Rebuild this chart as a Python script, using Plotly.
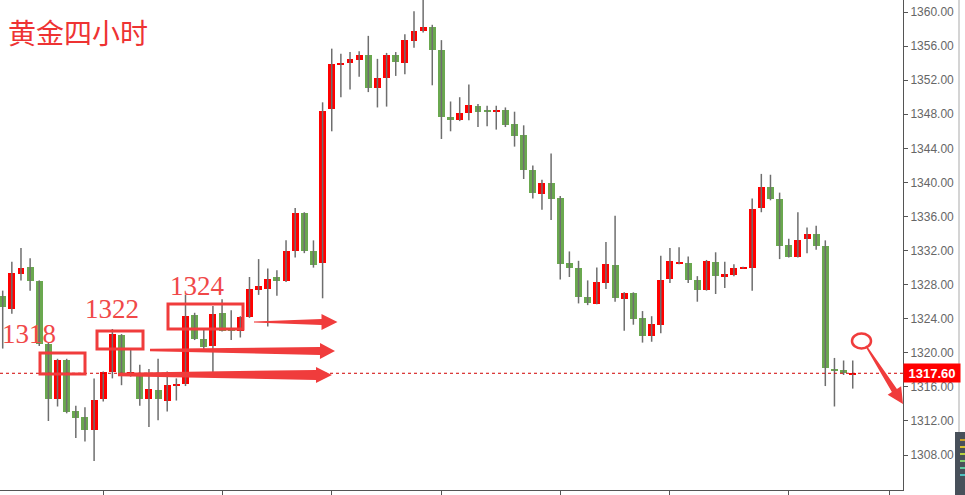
import plotly.graph_objects as go

# ---------------- data (4H gold candles) ----------------
opens = [1326.7, 1325.2, 1329.3, 1330.1, 1328.4, 1321.0, 1314.6, 1319.1, 1313.2, 1312.5,
         1310.9, 1314.6, 1317.7, 1322.1, 1317.3, 1317.6, 1314.6, 1315.6, 1314.4, 1316.1,
         1316.3, 1324.4, 1321.6, 1320.8, 1324.7, 1322.7, 1322.6, 1324.2, 1327.4, 1327.5,
         1328.9, 1328.4, 1331.9, 1336.4, 1331.9, 1330.5, 1348.6, 1353.8, 1354.0, 1354.4,
         1354.9, 1351.1, 1352.3, 1355.0, 1354.0, 1356.6, 1357.8, 1358.2, 1355.6, 1347.7,
         1347.3, 1348.1, 1349.0, 1348.4, 1348.3, 1348.5, 1346.8, 1345.6, 1341.4, 1338.7,
         1339.9, 1338.2, 1330.5, 1330.0, 1326.5, 1325.7, 1328.2, 1330.3, 1326.3, 1327.0,
         1324.1, 1322.0, 1323.3, 1328.7, 1330.5, 1330.6, 1328.6, 1327.4, 1330.7, 1329.0,
         1329.1, 1329.95, 1329.9, 1337.0, 1339.5, 1338.1, 1332.6, 1331.2, 1333.4, 1333.9,
         1332.5, 1318.1, 1318.0, 1317.5]
highs = [1327.3, 1330.7, 1332.3, 1331.1, 1328.5, 1321.2, 1319.3, 1319.3, 1313.8, 1313.6,
         1317.0, 1317.8, 1322.8, 1322.2, 1320.5, 1318.6, 1318.1, 1319.3, 1317.8, 1317.0,
         1326.8, 1324.7, 1322.7, 1325.5, 1326.3, 1325.0, 1324.3, 1328.9, 1331.0, 1329.9,
         1329.7, 1333.2, 1337.0, 1336.5, 1333.2, 1349.4, 1355.7, 1355.1, 1355.3, 1355.4,
         1357.2, 1354.5, 1355.2, 1355.3, 1357.4, 1360.1, 1361.4, 1358.5, 1356.7, 1349.5,
         1350.0, 1351.5, 1349.2, 1349.0, 1349.0, 1348.8, 1348.3, 1346.7, 1342.0, 1340.3,
         1343.4, 1338.4, 1331.9, 1330.8, 1328.5, 1330.0, 1333.0, 1336.1, 1327.1, 1327.1,
         1324.9, 1324.3, 1331.4, 1332.3, 1332.4, 1331.3, 1329.0, 1330.9, 1331.8, 1330.7,
         1330.4, 1330.1, 1338.1, 1341.0, 1340.9, 1338.8, 1333.4, 1336.5, 1334.7, 1334.9,
         1333.2, 1319.4, 1319.1, 1319.1]
lows = [1320.5, 1324.6, 1328.5, 1327.3, 1320.8, 1312.0, 1313.7, 1312.9, 1310.0, 1309.6,
        1307.3, 1314.3, 1317.0, 1316.2, 1317.2, 1313.8, 1311.3, 1312.1, 1313.1, 1314.4,
        1316.1, 1321.5, 1320.1, 1317.7, 1322.5, 1321.5, 1321.8, 1324.1, 1326.8, 1323.1,
        1326.7, 1328.3, 1331.2, 1331.7, 1330.0, 1326.4, 1346.0, 1350.0, 1350.9, 1352.4,
        1350.6, 1348.8, 1348.9, 1352.5, 1352.7, 1355.8, 1357.6, 1351.4, 1345.1, 1346.0,
        1347.2, 1347.3, 1346.5, 1346.6, 1346.2, 1346.5, 1344.2, 1340.4, 1338.1, 1336.8,
        1335.6, 1328.6, 1328.9, 1325.8, 1325.6, 1325.7, 1327.5, 1326.0, 1322.6, 1323.3,
        1321.2, 1321.3, 1322.3, 1328.2, 1330.4, 1328.2, 1326.0, 1327.3, 1326.9, 1327.6,
        1329.0, 1329.9, 1327.3, 1336.5, 1337.9, 1331.0, 1331.2, 1331.2, 1331.7, 1332.1,
        1316.1, 1313.7, 1317.4, 1315.8]
closes = [1325.4, 1329.4, 1330.0, 1328.4, 1321.0, 1314.6, 1319.1, 1313.1, 1312.4, 1310.9,
          1314.5, 1317.7, 1322.2, 1317.3, 1317.7, 1314.6, 1315.7, 1314.6, 1316.2, 1316.4,
          1324.3, 1321.6, 1320.7, 1324.5, 1322.6, 1322.6, 1324.2, 1327.5, 1327.8, 1328.7,
          1328.4, 1331.9, 1336.4, 1331.9, 1330.3, 1348.4, 1353.9, 1354.0, 1354.5, 1354.9,
          1351.1, 1352.3, 1355.0, 1354.1, 1356.7, 1357.8, 1358.2, 1355.6, 1347.7, 1347.3,
          1348.1, 1349.1, 1348.3, 1348.3, 1348.5, 1346.7, 1345.4, 1341.4, 1338.8, 1339.9,
          1338.0, 1330.4, 1329.9, 1326.6, 1325.8, 1328.3, 1330.4, 1326.4, 1327.0, 1324.0,
          1322.0, 1323.4, 1328.5, 1330.8, 1330.6, 1328.5, 1327.4, 1330.8, 1329.0, 1329.2,
          1330.0, 1330.05, 1336.9, 1339.5, 1338.0, 1332.5, 1331.2, 1333.3, 1333.9, 1332.5,
          1318.2, 1317.9, 1317.6, 1317.6]

price_ticks = [1308, 1312, 1316, 1320, 1324, 1328, 1332, 1336, 1340, 1344, 1348, 1352, 1356, 1360]
time_ticks = [11, 24, 36, 48, 61, 73, 86, 97]
last_price = 1317.60
title_text = "黄金四小时"
level_labels = ["1318", "1322", "1324"]

# ---------------- styling ----------------
UP = "#ff0000"
DOWN = "#6aa84f"
WICK = "#6e6e6e"
MARK = "#f03c3c"
W, H = 903.0, 490.0


def px(x):
    return x / W


def py(y):
    return 1 - y / H


idx = list(range(len(opens)))

wx, wy = [], []
for i in idx:
    wx += [i, i, None]
    wy += [lows[i], highs[i], None]

body_base = [min(o, c) for o, c in zip(opens, closes)]
body_h = [max(abs(c - o), 0.15) for o, c in zip(opens, closes)]
body_col = [UP if c >= o else DOWN for o, c in zip(opens, closes)]

fig = go.Figure()
fig.add_trace(go.Scatter(x=wx, y=wy, mode="lines", line=dict(color=WICK, width=1.5),
                         hoverinfo="skip", showlegend=False))
fig.add_trace(go.Bar(x=idx, y=body_h, base=body_base, width=0.76,
                     marker=dict(color=body_col, line=dict(width=0)),
                     hoverinfo="skip", showlegend=False))

shapes = []
# last price dotted line
shapes.append(dict(type="line", xref="paper", yref="y", x0=0, x1=1, y0=last_price, y1=last_price,
                   line=dict(color="#d00000", width=1, dash="dot"), layer="above"))

# boxes around the levels
for (x0, y0, x1, y1) in [(40, 353, 85, 374), (97, 331, 143, 349), (168, 304, 243, 329)]:
    shapes.append(dict(type="rect", xref="paper", yref="paper",
                       x0=px(x0), x1=px(x1), y0=py(y1), y1=py(y0),
                       line=dict(color=MARK, width=3), fillcolor="rgba(0,0,0,0)"))


def arrow(tx, ty, hx, hy, w0, w1, hw, hl):
    dx, dy = hx - tx, hy - ty
    L = (dx * dx + dy * dy) ** 0.5
    ux, uy = dx / L, dy / L
    nx, ny = -uy, ux
    bx, by = hx - ux * hl, hy - uy * hl
    pts = [(tx + nx * w0, ty + ny * w0), (bx + nx * w1, by + ny * w1), (bx + nx * hw, by + ny * hw),
           (hx, hy), (bx - nx * hw, by - ny * hw), (bx - nx * w1, by - ny * w1), (tx - nx * w0, ty - ny * w0)]
    path = "M " + " L ".join(f"{px(a):.5f},{py(b):.5f}" for a, b in pts) + " Z"
    return dict(type="path", xref="paper", yref="paper", path=path,
                fillcolor=MARK, line=dict(width=0), layer="above")


shapes.append(arrow(254, 322, 337.5, 322, 0.6, 3.0, 8, 16))
shapes.append(arrow(150, 350, 335, 351, 1.2, 4.0, 8, 15))
shapes.append(arrow(118, 374.5, 332, 375, 1.8, 5.0, 8, 16))
shapes.append(arrow(866, 346, 903, 404, 0.7, 3.0, 8, 16))
# circle
shapes.append(dict(type="circle", xref="paper", yref="paper",
                   x0=px(852), x1=px(871), y0=py(348.5), y1=py(333.5),
                   line=dict(color=MARK, width=2.5), fillcolor="rgba(0,0,0,0)"))
# right-side scroll bar line and widget
shapes.append(dict(type="line", xref="paper", yref="paper", x0=px(959), x1=px(959), y0=py(495), y1=py(0),
                   line=dict(color="#d4d4d4", width=2)))
shapes.append(dict(type="rect", xref="paper", yref="paper", x0=px(955), x1=px(968), y0=py(496), y1=py(432),
                   fillcolor="#48505a", line=dict(width=0)))
for k, col in enumerate(["#c8a028", "#d8c030", "#b8d040", "#80d070", "#60c8a0", "#50c0c0"]):
    yy = 440 + k * 7
    shapes.append(dict(type="line", xref="paper", yref="paper", x0=px(960), x1=px(965), y0=py(yy), y1=py(yy),
                       line=dict(color=col, width=2)))

annotations = [
    dict(text=title_text, xref="paper", yref="paper", x=px(6), y=py(32), xanchor="left", yanchor="middle",
         showarrow=False, font=dict(family="Noto Sans CJK SC", size=28, color="#ee3333")),
    dict(text="<b>%.2f</b>" % last_price, xref="paper", yref="y", x=1, y=last_price, xanchor="left",
         yanchor="middle", showarrow=False, bgcolor="#ff0000", width=53, height=15, borderpad=1.5,
         font=dict(family="Liberation Sans, Arial", size=13, color="white")),
]
for (lx, ly), txt in zip([(0, 334), (83, 309), (168, 286)], level_labels):
    annotations.append(dict(text=txt, xref="paper", yref="paper", x=px(lx), y=py(ly), xanchor="left",
                            yanchor="middle", showarrow=False,
                            font=dict(family="Liberation Serif, Times New Roman", size=27, color="#f04848")))

fig.update_layout(
    width=965, height=495,
    margin=dict(l=0, r=62, t=0, b=5),
    paper_bgcolor="white", plot_bgcolor="white",
    barmode="overlay", bargap=0,
    showlegend=False,
    shapes=shapes, annotations=annotations,
    xaxis=dict(range=[-0.295, 98.5], tickvals=time_ticks, ticktext=[""] * len(time_ticks),
               showticklabels=False, ticks="outside", ticklen=5, tickcolor="#555",
               showline=True, linecolor="#555", linewidth=1, showgrid=False, zeroline=False,
               fixedrange=True),
    yaxis=dict(range=[1303.9, 1361.41], side="right", tickvals=price_ticks,
               ticktext=["%.2f" % v for v in price_ticks], ticks="outside", ticklen=4, tickcolor="#555",
               showline=True, linecolor="#555", linewidth=1, showgrid=False, zeroline=False,
               tickfont=dict(family="Liberation Sans, Arial", size=12, color="#666"),
               fixedrange=True),
)

fig.write_html("out.html", config={"displayModeBar": False},
               post_script="document.body.style.margin='0';document.body.style.padding='0';"
                           "document.body.style.overflow='hidden';")
